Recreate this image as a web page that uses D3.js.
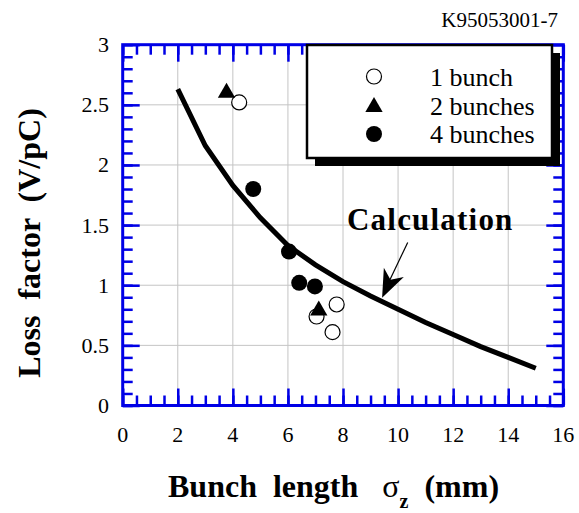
<!DOCTYPE html>
<html>
<head>
<meta charset="utf-8">
<script src="https://cdn.jsdelivr.net/npm/d3@7"></script>
<style>
  body { margin: 0; background: #fff; }
  svg text { font-family: 'Liberation Serif', 'Times New Roman', Times, 'DejaVu Serif', 'Noto Serif', serif; }
  .grid line { stroke: #c4c4c4; stroke-width: 1; }
</style>
</head>
<body>
<svg width="579" height="513"></svg>
<script>
// calculated loss factor curve (V/pC) vs bunch length (mm)
const calcX = [2, 3, 4, 5, 6, 7, 8, 9, 10, 11, 12, 13, 14, 15];
const calcY = [2.63, 2.16, 1.83, 1.56, 1.33, 1.17, 1.03, 0.91, 0.80, 0.69, 0.59, 0.49, 0.40, 0.31];

// measurements
const oneBunchX = [4.23, 7.77, 7.04, 7.62];
const oneBunchY = [2.52, 0.84, 0.74, 0.61];
const twoBunchX = [3.77, 7.12];
const twoBunchY = [2.6, 0.79];
const fourBunchX = [4.74, 6.04, 6.41, 6.98];
const fourBunchY = [1.8, 1.28, 1.02, 0.99];

const legendLabels = ["1 bunch", "2 bunches", "4 bunches"];
const xTicks = [0, 2, 4, 6, 8, 10, 12, 14, 16];
const yTicks = [0, 0.5, 1, 1.5, 2, 2.5, 3];

const svg = d3.select("svg");
const blue = "#0000e6";

const x = d3.scaleLinear().domain([0, 16]).range([122.7, 563.3]);
const y = d3.scaleLinear().domain([0, 3]).range([405.5, 44.7]);
const [x0, x1] = x.range();
const [y0, y1] = y.range();

// grid
const grid = svg.append("g").attr("class", "grid");
grid.selectAll(".gx").data(xTicks.slice(1, -1)).enter().append("line")
  .attr("x1", d => x(d)).attr("x2", d => x(d)).attr("y1", y0).attr("y2", y1);
grid.selectAll(".gy").data(yTicks.slice(1, -1)).enter().append("line")
  .attr("y1", d => y(d)).attr("y2", d => y(d)).attr("x1", x0).attr("x2", x1);

// axes with inward ticks on all four sides
function addAxis(axis, transform) {
  const g = svg.append("g").attr("transform", transform).call(axis);
  g.select(".domain").remove();
  g.selectAll("line").attr("stroke", blue).attr("stroke-width", 2.5);
  return g;
}
const xMinor = d3.range(0, 16.01, 0.5);
const yMinor = d3.range(0, 3.001, 0.1);

addAxis(d3.axisBottom(x).tickValues(xMinor).tickSize(-10).tickFormat(""), `translate(0,${y0})`);
addAxis(d3.axisBottom(x).tickValues(xTicks).tickSize(-17).tickFormat(""), `translate(0,${y0})`);
addAxis(d3.axisTop(x).tickValues(xMinor).tickSize(-10).tickFormat(""), `translate(0,${y1})`);
addAxis(d3.axisTop(x).tickValues(xTicks).tickSize(-17).tickFormat(""), `translate(0,${y1})`);
addAxis(d3.axisLeft(y).tickValues(yMinor).tickSize(-10).tickFormat(""), `translate(${x0},0)`);
addAxis(d3.axisLeft(y).tickValues(yTicks).tickSize(-17).tickFormat(""), `translate(${x0},0)`);
addAxis(d3.axisRight(y).tickValues(yMinor).tickSize(-10).tickFormat(""), `translate(${x1},0)`);
addAxis(d3.axisRight(y).tickValues(yTicks).tickSize(-17).tickFormat(""), `translate(${x1},0)`);

svg.append("rect")
  .attr("x", x0).attr("y", y1).attr("width", x1 - x0).attr("height", y0 - y1)
  .attr("fill", "none").attr("stroke", blue).attr("stroke-width", 3);

// tick labels
svg.append("g").selectAll("text").data(xTicks).enter().append("text")
  .attr("x", d => x(d)).attr("y", 442)
  .attr("text-anchor", "middle").attr("font-size", 22)
  .text(d => d);
svg.append("g").selectAll("text").data(yTicks).enter().append("text")
  .attr("x", 109).attr("y", d => y(d) + 7.5)
  .attr("text-anchor", "end").attr("font-size", 22)
  .text(d => d);

// calculation curve
const line = d3.line().x(d => x(d[0])).y(d => y(d[1]));
svg.append("path")
  .datum(calcX.map((v, i) => [v, calcY[i]]))
  .attr("d", line)
  .attr("fill", "none").attr("stroke", "#000").attr("stroke-width", 5);

// markers
const pts = (xs, ys) => xs.map((v, i) => [v, ys[i]]);
const tri = d3.symbol().type(d3.symbolTriangle).size(130);

svg.append("g").selectAll("circle").data(pts(oneBunchX, oneBunchY)).enter().append("circle")
  .attr("cx", d => x(d[0])).attr("cy", d => y(d[1])).attr("r", 7.5)
  .attr("fill", "#fff").attr("stroke", "#000").attr("stroke-width", 1.2);
svg.append("g").selectAll("path").data(pts(twoBunchX, twoBunchY)).enter().append("path")
  .attr("d", tri).attr("transform", d => `translate(${x(d[0])},${y(d[1])})`)
  .attr("fill", "#000");
svg.append("g").selectAll("circle").data(pts(fourBunchX, fourBunchY)).enter().append("circle")
  .attr("cx", d => x(d[0])).attr("cy", d => y(d[1])).attr("r", 8)
  .attr("fill", "#000");

// annotation
svg.append("text")
  .attr("x", x(11.17)).attr("y", y(1.456))
  .attr("text-anchor", "middle").attr("font-size", 31).attr("font-weight", "bold")
  .attr("letter-spacing", 1.2)
  .text("Calculation");
const ax0 = x(10.35), ay0 = y(1.356), ax1 = x(9.42), ay1 = y(0.895);
svg.append("line")
  .attr("x1", ax0).attr("y1", ay0).attr("x2", ax1 + 4).attr("y2", ay1 - 10)
  .attr("stroke", "#000").attr("stroke-width", 1.2);
const ang = Math.atan2(ay1 - ay0, ax1 - ax0) * 180 / Math.PI;
svg.append("path")
  .attr("d", "M0,0 L-28,-11 L-20,0 L-28,11 Z")
  .attr("transform", `translate(${ax1},${ay1}) rotate(${ang})`)
  .attr("fill", "#000");

// legend
const lg = svg.append("g").attr("transform", "translate(307,45)");
lg.append("rect").attr("x", 8).attr("y", 8).attr("width", 245).attr("height", 113).attr("fill", "#000");
lg.append("rect").attr("x", 0).attr("y", 0).attr("width", 245).attr("height", 113)
  .attr("fill", "#fff").attr("stroke", "#000").attr("stroke-width", 2.5);
const rows = [31.5, 61, 89];
lg.append("circle").attr("cx", 67).attr("cy", rows[0]).attr("r", 7.5)
  .attr("fill", "#fff").attr("stroke", "#000").attr("stroke-width", 1.2);
lg.append("path").attr("d", tri).attr("transform", `translate(67,${rows[1] + 1})`).attr("fill", "#000");
lg.append("circle").attr("cx", 67).attr("cy", rows[2]).attr("r", 8).attr("fill", "#000");
lg.selectAll("text").data(legendLabels).enter().append("text")
  .attr("x", 123).attr("y", (d, i) => rows[i] + 9)
  .attr("font-size", 26)
  .text(d => d);

// titles
svg.append("text")
  .attr("x", 558).attr("y", 27).attr("text-anchor", "end").attr("font-size", 21)
  .text("K95053001-7");

const xt = svg.append("text")
  .attr("x", 168).attr("y", 497)
  .attr("font-size", 32).attr("font-weight", "bold")
  .attr("xml:space", "preserve");
xt.append("tspan").text("Bunch  length   ");
xt.append("tspan").attr("font-weight", "normal").text("σ");
xt.append("tspan").attr("font-size", 20).attr("dy", 11).text("z");
xt.append("tspan").attr("dy", -11).text("  (mm)");

svg.append("text")
  .attr("transform", "translate(40,243) rotate(-90)")
  .attr("text-anchor", "middle").attr("font-size", 32).attr("font-weight", "bold")
  .attr("xml:space", "preserve")
  .text("Loss  factor  (V/pC)");
</script>
</body>
</html>
